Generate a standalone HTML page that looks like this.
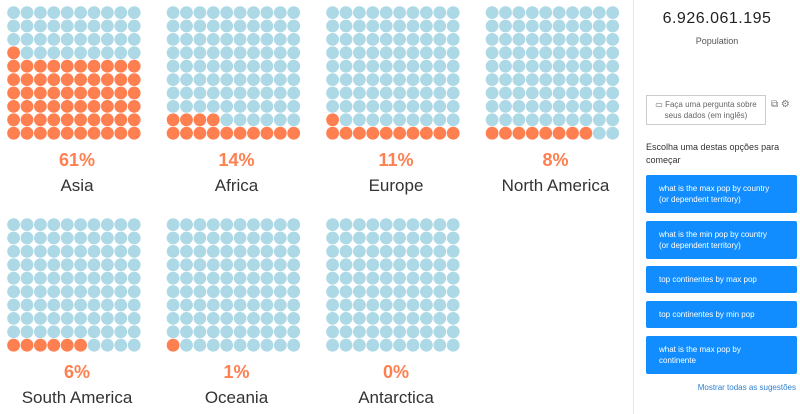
<!DOCTYPE html>
<html><head><meta charset="utf-8"><style>
body{margin:0;width:800px;height:414px;background:#fff;font-family:"Liberation Sans","DejaVu Sans",sans-serif;position:relative;overflow:hidden}
.pct{position:absolute;width:140px;text-align:center;color:#fe7f50;font-weight:bold;font-size:18px}
.nm{position:absolute;width:160px;text-align:center;color:#333;font-size:17px}
.side{position:absolute;left:633px;top:0;width:1px;height:414px;background:#e6e6e6}
.btn{position:absolute;left:646px;width:151px;background:#118dff;color:#fff;font-size:8px;line-height:11px;box-sizing:border-box;padding:0 0 0 13px;display:flex;align-items:center;border-radius:2px}
</style></head><body>
<svg id="s" width="633" height="414" style="position:absolute;left:0;top:0"></svg>
<div class="side"></div>
<div style="position:absolute;left:634px;width:166px;top:10px;text-align:center;font-size:16px;color:#222;letter-spacing:0.5px">6.926.061.195</div>
<div style="position:absolute;left:634px;width:166px;top:36px;text-align:center;font-size:9px;color:#555">Population</div>
<div style="position:absolute;left:646px;top:95px;width:120px;height:30px;border:1px solid #ccc;box-sizing:border-box;font-size:8px;color:#666;text-align:center;line-height:11px;padding-top:3px">▭ Faça uma pergunta sobre<br>seus dados (em inglês)</div>
<div style="position:absolute;left:771px;top:99px;font-size:10px;color:#777">⧉ ⚙</div>
<div style="position:absolute;left:646px;top:141px;font-size:9px;color:#333;line-height:13px">Escolha uma destas opções para<br>começar</div>
<div class="btn" style="top:175px;height:38px">what is the max pop by country<br>(or dependent territory)</div>
<div class="btn" style="top:221px;height:38px">what is the min pop by country<br>(or dependent territory)</div>
<div class="btn" style="top:266px;height:27px">top continentes by max pop</div>
<div class="btn" style="top:301px;height:27px">top continentes by min pop</div>
<div class="btn" style="top:336px;height:38px">what is the max pop by<br>continente</div>
<div style="position:absolute;right:4px;top:383px;font-size:8px;color:#2d7fd0">Mostrar todas as sugestões</div>
<div id="labels"></div>
<script>
var d=[["Asia",61,0,0],["Africa",14,1,0],["Europe",11,2,0],["North America",8,3,0],["South America",6,0,1],["Oceania",1,1,1],["Antarctica",0,2,1]];
var s='',L='';
d.forEach(function(c){var x0=7+c[2]*159.5,y0=6+c[3]*212;
for(var r=0;r<10;r++)for(var k=0;k<10;k++){var idx=(9-r)*10+k;var col=idx<c[1]?'#fe7f50':'#add8e6';
s+='<circle cx="'+(x0+6.6+k*13.4)+'" cy="'+(y0+6.6+r*13.4)+'" r="6.4" fill="'+col+'"/>';}
L+='<div class="pct" style="left:'+(x0+0)+'px;top:'+(y0+144)+'px">'+c[1]+'%</div>';
L+='<div class="nm" style="left:'+(x0-10)+'px;top:'+(y0+170)+'px">'+c[0]+'</div>';});
document.getElementById('s').innerHTML=s;document.getElementById('labels').innerHTML=L;
</script>
</body></html>
